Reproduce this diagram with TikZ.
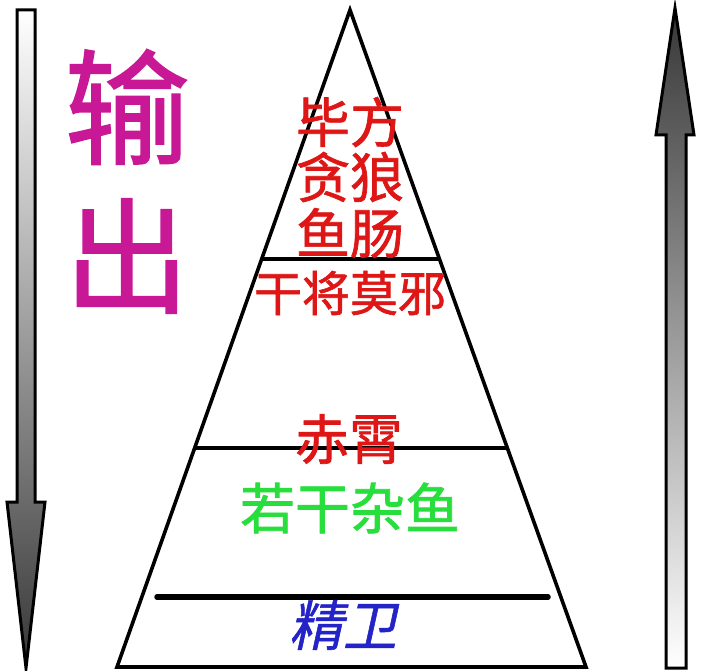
\documentclass[tikz,border=0pt]{standalone}
\usepackage{fontspec}
\setmainfont{Noto Sans CJK SC}
\newfontfamily\cjk[FakeBold=1.3]{Noto Sans CJK SC}
\newfontfamily\cjkslant[FakeSlant=0.22,FakeBold=1.0]{Noto Sans CJK SC}
\usetikzlibrary{calc}
\definecolor{magentaT}{RGB}{200,24,150}
\definecolor{redT}{RGB}{222,22,22}
\definecolor{greenT}{RGB}{40,222,60}
\definecolor{blueT}{RGB}{35,35,200}
\definecolor{darkT}{RGB}{55,55,55}
\tikzset{
  tri/.style={draw=black, line width=3.6pt, line join=miter},
  level/.style={draw=black, line width=3.4pt},
  baseline line/.style={draw=black, line width=5.5pt, line cap=round},
  arrowbox/.style={draw=black, line width=3pt, line join=miter},
  lbl/.style={inner sep=0pt, anchor=center},
}
\begin{document}
\begin{tikzpicture}[x=1pt,y=-1pt]
\useasboundingbox (0,0) rectangle (720,671);
\fill[white] (0,0) rectangle (720,671);

% pyramid
\coordinate (apex) at (350,10);
\coordinate (bl) at (117,667);
\coordinate (br) at (586,667);
\draw[tri] (apex) -- (bl) -- (br) -- cycle;
\coordinate (l1a) at ($(apex)!0.379!(bl)$);
\coordinate (l1b) at ($(apex)!0.379!(br)$);
\coordinate (l2a) at ($(apex)!0.6667!(bl)$);
\coordinate (l2b) at ($(apex)!0.6667!(br)$);
\draw[level] (l1a) -- (l1b);
\draw[level] (l2a) -- (l2b);
\coordinate (b3a) at (157,597);
\coordinate (b3b) at (548,597);
\draw[baseline line] (b3a) -- (b3b);

% left arrow (down)
\path[arrowbox, top color=white, bottom color=darkT]
  (17,10) -- (35,10) -- (35,502) -- (45,502) -- (26,668) -- (7,502) -- (17,502) -- cycle;
% right arrow (up)
\path[arrowbox, top color=darkT, bottom color=white]
  (675,8) -- (694,135) -- (686,135) -- (686,668) -- (666,668) -- (666,135) -- (656,135) -- cycle;

% texts
\node[lbl, text=magentaT, font=\cjk\fontsize{125}{130}\selectfont] (shu) at (127,107) {输};
\node[lbl, text=magentaT, font=\cjk\fontsize{125}{130}\selectfont] (chu) at (127,256) {出};

\node[lbl, text=redT, font=\cjk\fontsize{54}{60}\selectfont] (t1) at (350,122) {毕方};
\node[lbl, text=redT, font=\cjk\fontsize{54}{60}\selectfont] (t2) at (350,177) {贪狼};
\node[lbl, text=redT, font=\cjk\fontsize{54}{60}\selectfont] (t3) at (350,233) {鱼肠};
\node[lbl, text=redT, font=\cjk\fontsize{48}{54}\selectfont] (t4) at (350,293) {干将莫邪};
\node[lbl, text=redT, font=\cjk\fontsize{54}{60}\selectfont] (t5) at (349,439) {赤霄};
\node[lbl, text=greenT, font=\cjk\fontsize{55}{60}\selectfont] (t6) at (350,508) {若干杂鱼};
\node[lbl, text=blueT, font=\cjkslant\fontsize{54}{60}\selectfont] (t7) at (343,625) {精卫};
\end{tikzpicture}
\end{document}
